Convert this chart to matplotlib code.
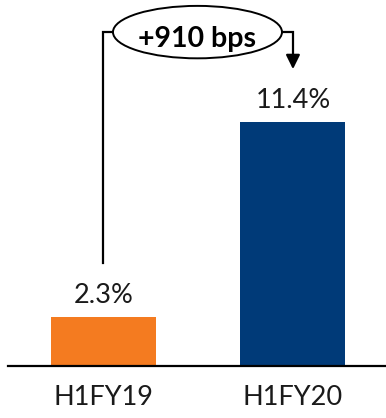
import matplotlib
matplotlib.use("Agg")
import matplotlib.pyplot as plt
from matplotlib.patches import Ellipse

categories = ["H1FY19", "H1FY20"]
values = [2.3, 11.4]
value_labels = ["2.3%", "11.4%"]
change_label = "+910 bps"
colors = ["#F47B20", "#003A78"]

plt.rcParams["font.family"] = ["Lato", "DejaVu Sans"]

fig = plt.figure(figsize=(3.86, 4.18), dpi=100)
ax = fig.add_axes([8 / 386, 52 / 418, 378 / 386, 366 / 418])

x = list(range(len(categories)))
ax.bar(x, values, width=0.554, color=colors)
ax.set_xlim(-0.504, 1.491)
ax.set_ylim(0, 17.1)

for xi, v, lab in zip(x, values, value_labels):
    ax.text(xi, v + 0.65, lab, ha="center", va="baseline", fontsize=19.5, color="#1a1a1a")

for xi, cat in zip(x, categories):
    ax.text(xi, -1.45, cat, ha="center", va="center", fontsize=19.5, color="#1a1a1a")

# baseline only, no frame or ticks
for s in ["top", "right", "left"]:
    ax.spines[s].set_visible(False)
ax.spines["bottom"].set_linewidth(1.6)
ax.set_xticks([])
ax.set_yticks([])

# bracket from the first bar over to the second one
top = 15.6
ell_x, ell_w, ell_h = 0.496, 0.892, 2.45
ax.plot([0, 0, ell_x - ell_w / 2], [values[0] + 2.5, top, top], color="black", lw=1.6,
        solid_joinstyle="miter")
ax.plot([ell_x + ell_w / 2, 1, 1], [top, top, values[1] + 3.0], color="black", lw=1.6,
        solid_joinstyle="miter")
ax.annotate("", xy=(1, values[1] + 2.34), xytext=(1, values[1] + 3.2),
            arrowprops=dict(arrowstyle="-|>,head_length=0.85,head_width=0.42", color="black", lw=1.6))
ax.add_patch(Ellipse((ell_x, top), ell_w, ell_h, facecolor="white", edgecolor="black", lw=1.4,
                     clip_on=False, zorder=3))
ax.text(ell_x, top - 0.7, change_label, ha="center", va="baseline", fontsize=20.5,
        fontweight="bold", zorder=4)

fig.savefig("out.png", dpi=100)
